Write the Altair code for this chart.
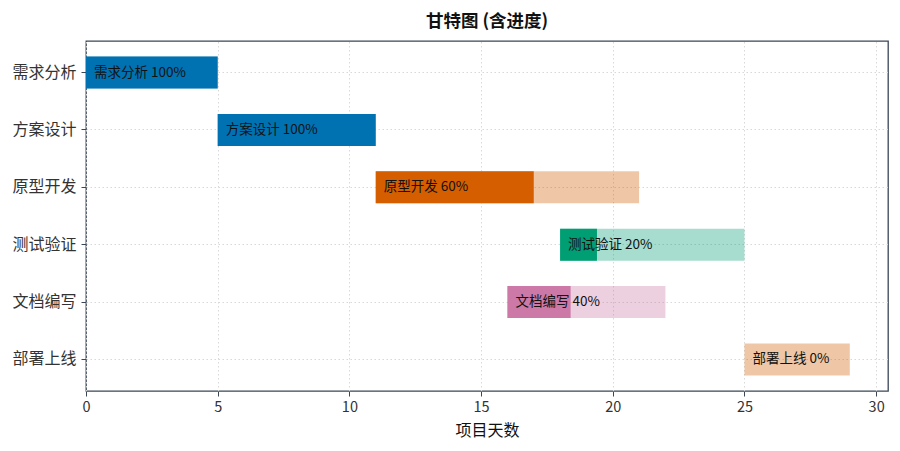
import altair as alt
import pandas as pd

tasks = ["需求分析", "方案设计", "原型开发", "测试验证", "文档编写", "部署上线"]
starts = [0, 5, 11, 18, 16, 25]
durations = [5, 6, 10, 7, 6, 4]
progress = [100, 100, 60, 20, 40, 0]
colors = ["#0072B2", "#0072B2", "#D55E00", "#009E73", "#CC79A7", "#D55E00"]
x_ticks = [0, 5, 10, 15, 20, 25, 30]

FONT = "Noto Sans CJK SC"

df = pd.DataFrame({
    "task": tasks,
    "start": starts,
    "end": [s + d for s, d in zip(starts, durations)],
    "done": [s + d * p / 100 for s, d, p in zip(starts, durations, progress)],
    "label": [f"{t} {p}%" for t, p in zip(tasks, progress)],
    "color": colors,
})

xscale = alt.Scale(domain=[0, 30.45], nice=False, zero=False)
yscale = alt.Scale(domain=tasks, paddingInner=0.442, paddingOuter=0.27)

x_axis = alt.Axis(values=x_ticks, title="项目天数", grid=True, gridDash=[1.5, 2.5],
                  gridColor="#d8d8d8", labelFontSize=14.5, titleFontSize=16,
                  titleFontWeight="normal", labelColor="#333333", titleColor="#111111",
                  tickColor="#3a4656", domain=False, titlePadding=9, labelPadding=4,
                  labelFlush=False)
y_axis = alt.Axis(title=None, grid=True, gridDash=[1.5, 2.5], gridColor="#d8d8d8",
                  labelFontSize=16, labelColor="#333333", tickColor="#3a4656",
                  domain=False, labelPadding=5)

base = alt.Chart(df)

full = base.mark_bar(opacity=0.35, cornerRadius=0).encode(
    x=alt.X("start:Q", scale=xscale, axis=x_axis),
    x2="end:Q",
    y=alt.Y("task:N", scale=yscale, axis=y_axis, sort=tasks),
    color=alt.Color("color:N", scale=None),
)

done = base.mark_bar(opacity=1).encode(
    x=alt.X("start:Q", scale=xscale),
    x2="done:Q",
    y=alt.Y("task:N", scale=yscale, sort=tasks),
    color=alt.Color("color:N", scale=None),
)

text = base.mark_text(align="left", baseline="middle", dx=8, fontSize=13.5,
                      font=FONT, color="#111111").encode(
    x=alt.X("start:Q", scale=xscale),
    y=alt.Y("task:N", scale=yscale, sort=tasks),
    text="label:N",
)

chart = alt.layer(full, done, text).properties(
    width=802,
    height=350,
    title=alt.TitleParams("甘特图 (含进度)", fontSize=17.5, fontWeight="bold",
                          font=FONT, color="#111111", offset=11),
    autosize=alt.AutoSizeParams(type="none"),
    padding={"left": 78, "top": 33, "right": 4, "bottom": 52},
).configure(font=FONT).configure_view(
    stroke="#3a4656", strokeWidth=1.3
)

chart.save("out.html", embed_options={"renderer": "svg", "actions": False})
